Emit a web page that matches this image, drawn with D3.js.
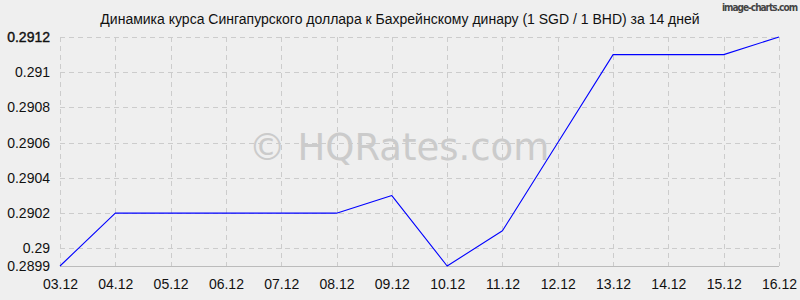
<html>
  <body style="margin:0;background:#efefef">
    <script src="https://d3js.org/d3.v7.min.js"></script>
    <div id="chart"></div>
    <script>
      const dates = ['03.12', '04.12', '05.12', '06.12', '07.12', '08.12', '09.12', '10.12', '11.12', '12.12', '13.12', '14.12', '15.12', '16.12'];
      const rates = [0.2899, 0.2902, 0.2902, 0.2902, 0.2902, 0.2902, 0.2903, 0.2899, 0.2901, 0.29060, 0.29110, 0.29110, 0.29110, 0.2912];
      const yTickValues = [0.2899, 0.29, 0.2902, 0.2904, 0.2906, 0.2908, 0.291, 0.2912];
      const yTickLabels = ['0.2899', '0.29', '0.2902', '0.2904', '0.2906', '0.2908', '0.291', '0.2912'];
      const title = 'Динамика курса Сингапурского доллара к Бахрейнскому динару (1 SGD / 1 BHD) за 14 дней';

      const width = 800, height = 300;
      const margin = { top: 37, right: 21, bottom: 34, left: 60 };

      const svg = d3.select('#chart').append('svg')
        .attr('width', width)
        .attr('height', height)
        .style('display', 'block')
        .style('font-family', '"Liberation Sans", Arial, sans-serif');

      svg.append('rect').attr('width', width).attr('height', height).attr('fill', '#efefef');

      const x = d3.scalePoint().domain(dates).range([margin.left, width - margin.right]);
      const y = d3.scaleLinear().domain([0.2899, 0.2912]).range([height - margin.bottom, margin.top]);

      // grid
      const grid = svg.append('g').attr('class', 'grid')
        .attr('stroke', '#cccccc').attr('stroke-dasharray', '5,4').attr('shape-rendering', 'crispEdges');
      grid.selectAll('line.v').data(dates).join('line')
        .attr('class', 'v')
        .attr('x1', d => Math.round(x(d)) + 0.5).attr('x2', d => Math.round(x(d)) + 0.5)
        .attr('y1', margin.top).attr('y2', height - margin.bottom);
      grid.selectAll('line.h').data(yTickValues.filter(v => v !== 0.2899)).join('line')
        .attr('class', 'h')
        .attr('x1', margin.left).attr('x2', width - margin.right)
        .attr('y1', d => Math.round(y(d)) + 0.5).attr('y2', d => Math.round(y(d)) + 0.5);

      // bottom baseline
      svg.append('line')
        .attr('x1', margin.left).attr('x2', width - margin.right)
        .attr('y1', Math.round(y(0.2899)) + 0.5).attr('y2', Math.round(y(0.2899)) + 0.5)
        .attr('stroke', '#bbbbbb').attr('shape-rendering', 'crispEdges');

      // watermark
      svg.append('text')
        .attr('x', 399).attr('y', 160)
        .attr('text-anchor', 'middle')
        .attr('fill', '#cbcbcb')
        .style('font-family', '"DejaVu Sans", Verdana, sans-serif')
        .style('font-size', '37px')
        .text('© HQRates.com');

      // axes
      const yAxis = d3.axisLeft(y).tickValues(yTickValues).tickSize(0).tickPadding(10)
        .tickFormat((d, i) => yTickLabels[i]);
      const yG = svg.append('g').attr('transform', `translate(${margin.left},0)`).call(yAxis);
      yG.select('.domain').remove();
      yG.selectAll('text').attr('fill', '#111').style('font-size', '14px').style('font-family', '"Liberation Sans", Arial, sans-serif');
      yG.selectAll('text').filter(d => d === 0.2912).attr('stroke', '#111').attr('stroke-width', 0.4);

      const xAxis = d3.axisBottom(x).tickSize(0).tickPadding(13);
      const xG = svg.append('g').attr('transform', `translate(0,${height - margin.bottom})`).call(xAxis);
      xG.select('.domain').remove();
      xG.selectAll('text').attr('fill', '#111').style('font-size', '14px').style('font-family', '"Liberation Sans", Arial, sans-serif');

      // line
      const line = d3.line().x((d, i) => x(dates[i])).y(d => y(d));
      svg.append('path')
        .datum(rates)
        .attr('d', line)
        .attr('fill', 'none')
        .attr('stroke', '#0000ff')
        .attr('stroke-width', 1.1)
        .attr('stroke-linejoin', 'round');

      // title
      svg.append('text')
        .attr('x', 400).attr('y', 24)
        .attr('text-anchor', 'middle')
        .attr('fill', '#111')
        .style('font-size', '14px')
        .text(title);

      svg.append('text')
        .attr('x', 798).attr('y', 11)
        .attr('text-anchor', 'end')
        .attr('fill', '#444')
        .attr('textLength', 76)
        .style('font-family', '"DejaVu Sans Condensed", "DejaVu Sans", sans-serif')
        .style('font-weight', 'bold')
        .style('font-size', '10px')
        .text('image-charts.com');
    </script>
  </body>
</html>
